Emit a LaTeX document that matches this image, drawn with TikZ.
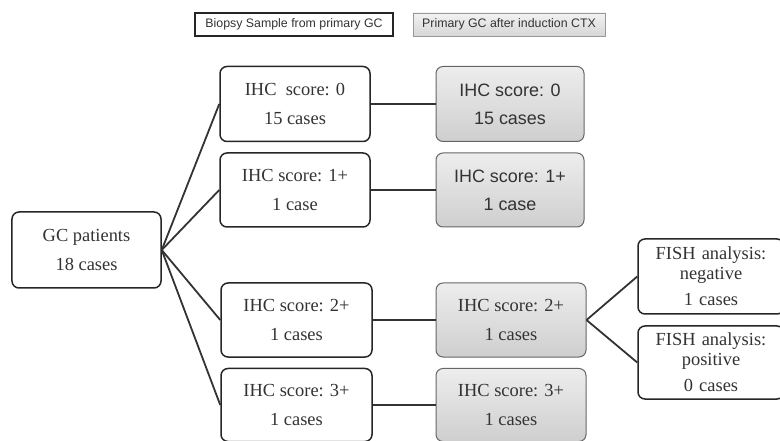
\documentclass[tikz,border=0pt]{standalone}
\usepackage{fontspec}
\setmainfont{Liberation Serif}
\newfontfamily\arialf{Liberation Sans}
\begin{document}
\begin{tikzpicture}[x=1bp,y=-1bp,
  wbox/.style={draw=black!85,line width=1.5bp,rounded corners=7bp,fill=white,inner sep=0pt,align=center,
    font=\fontsize{18.5}{29}\selectfont,text=black!80},
  gbox/.style={draw=black!60,line width=1bp,rounded corners=7bp,top color=black!7,bottom color=black!19,
    inner sep=0pt,align=center,font=\fontsize{18.5}{29}\selectfont,text=black!80},
  gsans/.style={gbox,font=\arialf\fontsize{18}{28}\selectfont},
  fbox/.style={wbox,font=\fontsize{18.5}{20}\selectfont},
  conn/.style={draw=black!80,line width=1.8bp},
  box/.style args={#1x#2}{minimum width=#1bp,minimum height=#2bp}]
\useasboundingbox (0,0) rectangle (780,441);
% legend
\node[draw=black!85,line width=1.3bp,fill=white,box=198x23,inner sep=0pt,font=\arialf\fontsize{12.4}{14}\selectfont,text=black!80] (leg1) at (294,24.5) {Biopsy Sample from primary GC};
\node[draw=black!40,line width=0.8bp,top color=black!5,bottom color=black!16,box=192x23,inner sep=0pt,font=\arialf\fontsize{12.4}{14}\selectfont,text=black!80] (leg2) at (509,24.5) {Primary GC after induction CTX};
% root
\node[wbox,box=149x76] (gc) at (86.5,250) {GC patients\\18 cases};
% white column
\node[wbox,box=150x75] (w0) at (295,104) {IHC\ \ score: 0\\15 cases};
\node[wbox,box=150x74] (w1) at (295,190) {IHC score: 1+\\1 case};
\node[wbox,box=151x74] (w2) at (296.5,320) {IHC score: 2+\\1 cases};
\node[wbox,box=151x73] (w3) at (296.5,405) {IHC score: 3+\\1 cases};
% gray column
\node[gsans,box=148x75] (g0) at (510,104) {IHC score: 0\\15 cases};
\node[gsans,box=148x74] (g1) at (510,190) {IHC score: 1+\\1 case};
\node[gbox,box=150x74] (g2) at (511,320) {IHC score: 2+\\1 cases};
\node[gbox,box=150x73] (g3) at (511,405) {IHC score: 3+\\1 cases};
% FISH
\node[fbox,box=146x75,text width=141bp] (fn) at (711,276.5) {FISH analysis:\\negative\\[6bp]1 cases};
\node[fbox,box=146x73,text width=141bp] (fp) at (711,362.5) {FISH analysis:\\positive\\[6bp]0 cases};
% connectors
\draw[conn] (gc.east) -- (w0.west);
\draw[conn] (gc.east) -- (w1.west);
\draw[conn] (gc.east) -- (w2.west);
\draw[conn] (gc.east) -- (w3.west);
\draw[conn] (w0.east) -- (g0.west);
\draw[conn] (w1.east) -- (g1.west);
\draw[conn] (w2.east) -- (g2.west);
\draw[conn] (w3.east) -- (g3.west);
\draw[conn] (g2.east) -- (fn.west);
\draw[conn] (g2.east) -- (fp.west);
\end{tikzpicture}
\end{document}
